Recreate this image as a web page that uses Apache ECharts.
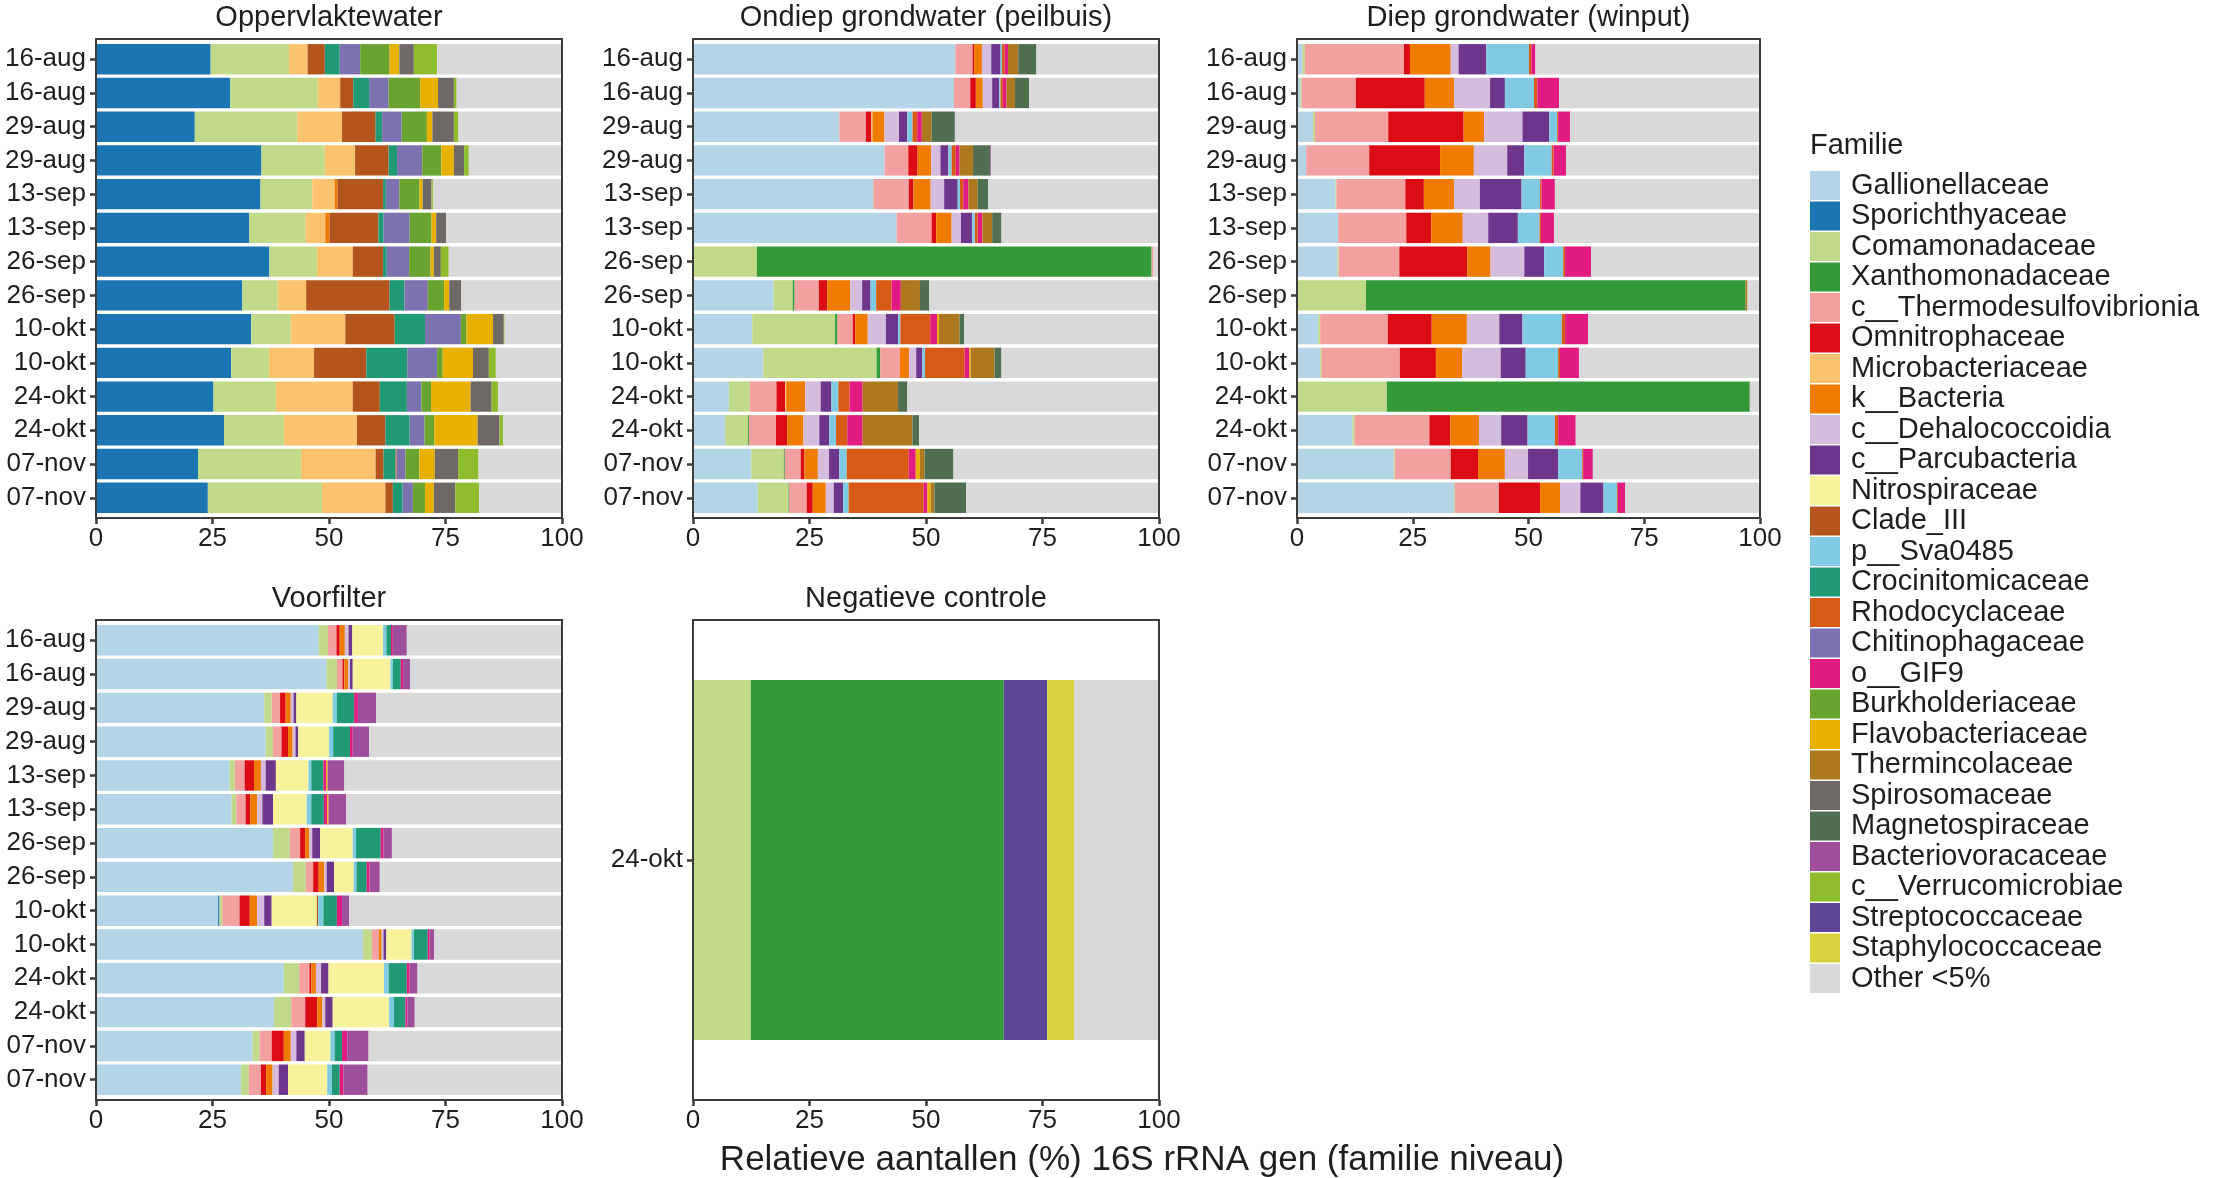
<!DOCTYPE html>
<html>
<head>
<meta charset="utf-8">
<script src="https://cdn.jsdelivr.net/npm/echarts@6/dist/echarts.min.js"></script>
<style>
  html, body { margin: 0; padding: 0; background: #fff; }
  #chart { width: 2224px; height: 1178px; }
</style>
</head>
<body>
<div id="chart"></div>
<script>
// families in legend / stacking order
const families = [
    'Gallionellaceae', 'Sporichthyaceae', 'Comamonadaceae', 'Xanthomonadaceae',
    'c__Thermodesulfovibrionia', 'Omnitrophaceae', 'Microbacteriaceae', 'k__Bacteria',
    'c__Dehalococcoidia', 'c__Parcubacteria', 'Nitrospiraceae', 'Clade_III',
    'p__Sva0485', 'Crocinitomicaceae', 'Rhodocyclaceae', 'Chitinophagaceae',
    'o__GIF9', 'Burkholderiaceae', 'Flavobacteriaceae', 'Thermincolaceae',
    'Spirosomaceae', 'Magnetospiraceae', 'Bacteriovoracaceae', 'c__Verrucomicrobiae',
    'Streptococcaceae', 'Staphylococcaceae', 'Other <5%',
]
const familyColors = [
    '#b4d4e8', '#1b75b3', '#c0da8a', '#339a37',
    '#f2a0a0', '#dc0c15', '#fbc36e', '#ef7c00',
    '#d5bcdc', '#6d358b', '#f8f29d', '#b3551d',
    '#80cbe3', '#209a74', '#d75b16', '#7d71b0',
    '#e11b80', '#68a42f', '#e8b000', '#ad781e',
    '#6e6866', '#506f51', '#9e4f9b', '#8fbc2f',
    '#5c4695', '#d8d23f', '#d9d9d9',
]
const sampleDates = ['16-aug', '16-aug', '29-aug', '29-aug', '13-sep', '13-sep', '26-sep',
    '26-sep', '10-okt', '10-okt', '24-okt', '24-okt', '07-nov', '07-nov']
const controlDates = ['24-okt']

// Oppervlaktewater
const surfaceCols = ['Sporichthyaceae', 'Comamonadaceae', 'Microbacteriaceae', 'k__Bacteria',
    'Clade_III', 'Crocinitomicaceae', 'Rhodocyclaceae', 'Chitinophagaceae', 'Burkholderiaceae',
    'Flavobacteriaceae', 'Spirosomaceae', 'c__Verrucomicrobiae']
const surfaceValues = [
    [24.6, 16.8, 4.0, 0, 3.7, 3.2, 0, 4.4, 6.3, 2.1, 3.1, 5.0],
    [28.8, 18.8, 4.8, 0, 2.8, 3.4, 0, 4.2, 6.8, 3.8, 3.4, 0.6],
    [21.2, 22.0, 9.6, 0, 7.2, 1.4, 0, 4.2, 5.4, 1.2, 4.6, 1.0],
    [35.5, 13.6, 6.5, 0, 7.2, 1.8, 0, 5.4, 4.1, 2.7, 2.2, 1.0],
    [35.3, 11.1, 4.8, 0.6, 9.8, 0.6, 0, 2.9, 4.3, 0.7, 1.9, 0.3],
    [32.9, 12.1, 4.2, 0.9, 10.5, 1.1, 0, 5.6, 4.7, 1.0, 2.1, 0],
    [37.2, 10.2, 7.7, 0, 6.5, 0.8, 0, 4.8, 4.6, 0.7, 1.5, 1.7],
    [31.4, 7.6, 6.1, 0, 17.9, 3.2, 0, 5.0, 3.5, 1.1, 2.6, 0],
    [33.3, 8.5, 11.7, 0, 10.6, 6.5, 0, 7.7, 1.2, 5.7, 2.3, 0.2],
    [29.0, 8.1, 9.7, 0, 11.2, 8.8, 0, 6.4, 1.2, 6.5, 3.4, 1.5],
    [25.2, 13.4, 16.5, 0, 5.8, 5.8, 0, 3.1, 2.1, 8.5, 4.5, 1.4],
    [27.5, 12.8, 15.7, 0, 6.1, 5.2, 0, 3.2, 2.1, 9.3, 4.7, 0.8],
    [21.9, 22.1, 16.0, 0, 1.7, 2.6, 0.2, 1.9, 3.0, 3.3, 5.0, 4.4],
    [24.0, 24.5, 13.6, 0, 1.6, 2.1, 0, 2.2, 2.6, 1.9, 4.6, 5.1],
]

// Ondiep grondwater (peilbuis)
const shallowCols = ['Gallionellaceae', 'Comamonadaceae', 'Xanthomonadaceae', 'c__Thermodesulfovibrionia',
    'Omnitrophaceae', 'Microbacteriaceae', 'k__Bacteria', 'c__Dehalococcoidia', 'c__Parcubacteria',
    'p__Sva0485', 'Rhodocyclaceae', 'o__GIF9', 'Flavobacteriaceae', 'Thermincolaceae',
    'Magnetospiraceae', 'Bacteriovoracaceae']
const shallowValues = [
    [56.3, 0, 0, 3.7, 0.3, 0, 1.7, 2.0, 2.0, 0.3, 0.6, 0.7, 0, 2.2, 3.9, 0],
    [56.0, 0, 0, 3.5, 1.2, 0, 1.5, 2.0, 1.5, 0.3, 0.5, 0.8, 0, 1.8, 3.0, 0],
    [31.4, 0, 0, 5.7, 1.2, 0.2, 2.6, 3.1, 1.8, 1.1, 1.0, 1.0, 0, 2.1, 5.0, 0],
    [41.1, 0, 0, 5.1, 2.0, 0, 2.9, 2.0, 1.7, 0.7, 0.9, 0.8, 0, 2.9, 3.7, 0.2],
    [38.7, 0, 0, 7.6, 1.0, 0, 3.7, 2.9, 2.9, 0.5, 0.7, 1.1, 0, 2.0, 2.2, 0],
    [43.7, 0, 0, 7.5, 1.0, 0, 3.3, 2.0, 2.4, 0.6, 0.6, 1.0, 0, 2.1, 2.0, 0],
    [0, 13.7, 84.7, 0.4, 0, 0, 0, 0, 0, 0, 0, 0, 0, 0, 0, 0],
    [17.3, 4.1, 0.4, 5.2, 1.8, 0, 4.9, 2.6, 1.8, 1.2, 3.3, 2.0, 0, 4.1, 2.0, 0],
    [12.7, 17.8, 0.5, 3.3, 0.5, 0, 2.7, 3.9, 2.6, 0.5, 6.4, 1.5, 0.4, 4.4, 1.0, 0],
    [15.1, 24.3, 0.8, 4.2, 0, 0, 2.0, 1.5, 1.3, 0.6, 8.5, 1.0, 0.3, 5.1, 1.5, 0],
    [7.7, 4.5, 0, 5.7, 1.9, 0.2, 4.1, 3.3, 2.3, 1.5, 2.4, 2.8, 0, 7.6, 2.0, 0],
    [6.9, 4.9, 0.2, 5.8, 2.4, 0, 3.5, 3.4, 2.1, 1.5, 2.4, 3.3, 0, 10.7, 1.4, 0],
    [12.5, 7.0, 0.2, 3.4, 0.8, 0, 2.9, 2.4, 2.2, 1.6, 13.3, 1.5, 0.9, 1.0, 6.2, 0],
    [13.9, 6.6, 0.1, 3.8, 1.3, 0, 2.8, 1.7, 2.0, 1.2, 16.1, 0.8, 0.7, 0.8, 6.8, 0],
]

// Diep grondwater (winput)
const deepCols = ['Gallionellaceae', 'Comamonadaceae', 'Xanthomonadaceae', 'c__Thermodesulfovibrionia',
    'Omnitrophaceae', 'k__Bacteria', 'c__Dehalococcoidia', 'c__Parcubacteria', 'p__Sva0485',
    'Rhodocyclaceae', 'o__GIF9', 'Thermincolaceae']
const deepValues = [
    [1.2, 0.5, 0, 21.4, 1.3, 8.8, 1.7, 6.0, 9.2, 0.5, 0.9, 0],
    [0.7, 0.3, 0, 11.7, 14.9, 6.3, 7.8, 3.2, 6.3, 0.7, 4.7, 0],
    [3.5, 0.4, 0, 15.8, 16.3, 4.4, 8.3, 5.8, 1.7, 0.2, 2.6, 0],
    [2.0, 0, 0, 13.6, 15.3, 7.3, 7.2, 3.7, 5.9, 0.4, 2.7, 0],
    [8.3, 0.2, 0, 14.9, 4.0, 6.5, 5.6, 9.0, 4.0, 0.3, 2.9, 0],
    [8.9, 0, 0, 14.7, 5.4, 6.8, 5.5, 6.4, 4.7, 0.3, 2.8, 0],
    [8.7, 0.3, 0, 13.1, 14.7, 5.0, 7.3, 4.3, 4.1, 0.4, 5.6, 0],
    [0, 14.9, 82.0, 0, 0, 0, 0, 0, 0, 0, 0, 0.4],
    [4.6, 0.4, 0, 14.6, 9.5, 7.6, 7.0, 5.0, 8.5, 0.7, 5.0, 0],
    [5.0, 0.3, 0, 16.9, 7.8, 5.7, 8.3, 5.4, 7.0, 0.4, 4.1, 0],
    [0, 19.4, 78.4, 0, 0, 0, 0, 0, 0, 0, 0, 0],
    [12.0, 0.4, 0, 16.2, 4.5, 6.2, 4.8, 5.7, 5.9, 0.7, 3.8, 0],
    [20.9, 0.2, 0, 12.1, 5.9, 5.8, 5.0, 6.5, 5.2, 0.2, 2.1, 0],
    [33.9, 0.2, 0, 9.5, 8.9, 4.3, 4.4, 5.0, 2.9, 0.2, 1.6, 0],
]

// Voorfilter
const filterCols = ['Gallionellaceae', 'Sporichthyaceae', 'Comamonadaceae', 'c__Thermodesulfovibrionia',
    'Omnitrophaceae', 'k__Bacteria', 'c__Dehalococcoidia', 'c__Parcubacteria', 'Nitrospiraceae',
    'Clade_III', 'p__Sva0485', 'Crocinitomicaceae', 'o__GIF9', 'Flavobacteriaceae', 'Bacteriovoracaceae']
const filterValues = [
    [47.8, 0, 2.0, 1.8, 0.7, 1.1, 0.8, 0.8, 6.6, 0, 0.7, 1.0, 0.4, 0, 3.0],
    [49.5, 0, 2.2, 1.2, 0.4, 0.8, 0.4, 0.6, 8.1, 0, 0.5, 1.7, 0.5, 0, 1.5],
    [36.1, 0, 1.6, 1.8, 1.2, 1.1, 0.6, 0.6, 7.8, 0, 0.9, 3.7, 0.8, 0, 3.9],
    [36.4, 0, 1.6, 1.8, 1.4, 1.0, 0.6, 0.6, 6.6, 0, 0.9, 3.6, 0.6, 0, 3.5],
    [28.7, 0, 1.1, 2.1, 2.0, 1.5, 1.0, 2.2, 7.0, 0, 0.6, 2.6, 0.6, 0.3, 3.6],
    [29.1, 0, 1.0, 2.0, 1.0, 1.5, 1.1, 2.3, 7.2, 0, 1.0, 2.7, 0.7, 0.3, 3.8],
    [38.0, 0, 3.6, 2.2, 1.1, 0.9, 0.6, 1.7, 7.0, 0, 0.7, 5.3, 0.6, 0, 1.8],
    [42.3, 0, 2.7, 1.6, 1.2, 1.2, 0.5, 1.6, 4.2, 0, 0.6, 2.2, 0.6, 0, 2.2],
    [26.2, 0.3, 0.6, 3.7, 2.2, 1.6, 1.5, 1.6, 9.7, 0.3, 1.1, 2.9, 1.1, 0, 1.5],
    [57.3, 0, 1.9, 1.5, 0, 0.6, 0.4, 0.6, 5.4, 0, 0.5, 3.0, 0.4, 0, 1.0],
    [40.3, 0, 3.3, 2.2, 0.4, 1.0, 1.1, 1.6, 11.9, 0, 1.0, 3.9, 0.6, 0, 1.7],
    [38.2, 0, 3.7, 3.0, 2.6, 1.1, 0.6, 1.6, 12.1, 0, 1.0, 2.5, 0.4, 0, 1.6],
    [33.6, 0, 1.5, 2.6, 2.6, 1.5, 1.2, 1.8, 5.5, 0, 0.9, 1.6, 1.1, 0, 4.6],
    [31.1, 0, 1.7, 2.6, 1.1, 1.4, 1.3, 2.0, 8.4, 0, 1.0, 1.7, 0.8, 0, 5.2],
]

// Negatieve controle
const controlCols = ['Comamonadaceae', 'Xanthomonadaceae', 'Streptococcaceae', 'Staphylococcaceae']
const controlValues = [
    [12.4, 54.3, 9.3, 5.8],
]

const FONT = 'Liberation Sans, Arial, Helvetica, sans-serif'

// box = panel frame; the bars sit inside with ggplot-like padding (0.6 band each side)
const panels = [
    { title: 'Oppervlaktewater', cols: surfaceCols, values: surfaceValues, dates: sampleDates,
      box: { left: 96, top: 39, width: 466, height: 479 } },
    { title: 'Ondiep grondwater (peilbuis)', cols: shallowCols, values: shallowValues, dates: sampleDates,
      box: { left: 693, top: 39, width: 466, height: 479 } },
    { title: 'Diep grondwater (winput)', cols: deepCols, values: deepValues, dates: sampleDates,
      box: { left: 1297, top: 39, width: 463, height: 479 } },
    { title: 'Voorfilter', cols: filterCols, values: filterValues, dates: sampleDates,
      box: { left: 96, top: 620, width: 466, height: 480 } },
    { title: 'Negatieve controle', cols: controlCols, values: controlValues, dates: controlDates,
      box: { left: 693, top: 620, width: 466, height: 480 } },
]

let chart = echarts.init(document.getElementById('chart'))

let grids = []
let xAxes = []
let yAxes = []
let series = []
let graphics = []

panels.forEach((p, pi) => {
    let n = p.dates.length
    let band = p.box.height / (n + 0.2)
    let inset = band * 0.1
    grids.push({
        left: p.box.left,
        width: p.box.width,
        top: p.box.top + inset,
        height: p.box.height - 2 * inset,
    })
    xAxes.push({
        gridIndex: pi,
        type: 'value',
        min: 0,
        max: 100,
        interval: 25,
        offset: inset,
        axisLine: { show: false },
        axisTick: { show: true, length: 6, lineStyle: { color: '#3d3b39', width: 2.5 } },
        axisLabel: { color: '#1e1e1e', fontSize: 26, fontFamily: FONT, margin: 8 },
        splitLine: { show: false },
    })
    yAxes.push({
        gridIndex: pi,
        type: 'category',
        inverse: true,
        data: p.dates,
        axisLine: { show: false },
        axisTick: { show: true, alignWithLabel: true, length: 6, lineStyle: { color: '#3d3b39', width: 2.5 } },
        axisLabel: { color: '#1e1e1e', fontSize: 26, fontFamily: FONT, margin: 10, interval: 0 },
        splitLine: { show: false },
    })
    families.forEach((fam, fi) => {
        let data
        if (fam === 'Other <5%') {
            // rest of every bar up to 100 %
            data = p.values.map(row => {
                let s = row.reduce((a, b) => a + b, 0)
                return Math.max(0, +(100 - s).toFixed(2))
            })
        } else {
            let ci = p.cols.indexOf(fam)
            data = p.values.map(row => (ci < 0 ? 0 : row[ci]))
        }
        series.push({
            name: fam,
            type: 'bar',
            stack: 'panel' + pi,
            xAxisIndex: pi,
            yAxisIndex: pi,
            barCategoryGap: '10%',
            itemStyle: { color: familyColors[fi] },
            emphasis: { disabled: true },
            data: data,
        })
    })
    // panel frame
    graphics.push({
        type: 'rect',
        z: 100,
        shape: { x: p.box.left, y: p.box.top, width: p.box.width, height: p.box.height },
        style: { fill: null, stroke: '#3d3b39', lineWidth: 2 },
    })
    graphics.push({
        type: 'text',
        z: 100,
        x: p.box.left + p.box.width / 2,
        y: pi < 3 ? 18 : 599,
        style: {
            text: p.title,
            font: '29px ' + FONT,
            fill: '#1e1e1e',
            align: 'center',
            verticalAlign: 'middle',
            textAlign: 'center',
            textVerticalAlign: 'middle',
        },
    })
})

graphics.push({
    type: 'text',
    x: 1142,
    y: 1160,
    style: {
        text: 'Relatieve aantallen (%) 16S rRNA gen (familie niveau)',
        font: '35px ' + FONT,
        fill: '#1e1e1e',
        align: 'center',
        verticalAlign: 'middle',
        textAlign: 'center',
        textVerticalAlign: 'middle',
    },
})
graphics.push({
    type: 'text',
    x: 1810,
    y: 146,
    style: {
        text: 'Familie',
        font: '29px ' + FONT,
        fill: '#1e1e1e',
        align: 'left',
        verticalAlign: 'middle',
        textAlign: 'left',
        textVerticalAlign: 'middle',
    },
})

let option = {
    animation: false,
    backgroundColor: '#ffffff',
    grid: grids,
    xAxis: xAxes,
    yAxis: yAxes,
    legend: {
        data: families,
        orient: 'vertical',
        left: 1810,
        top: 171,
        padding: 0,
        icon: 'rect',
        itemWidth: 30,
        itemHeight: 29,
        itemGap: 1.5,
        selectedMode: false,
        textStyle: { fontSize: 29, fontFamily: FONT, color: '#1e1e1e', lineHeight: 29, padding: [0, 0, 0, 6] },
    },
    graphic: graphics,
    series: series,
}
chart.setOption(option)
</script>
</body>
</html>
